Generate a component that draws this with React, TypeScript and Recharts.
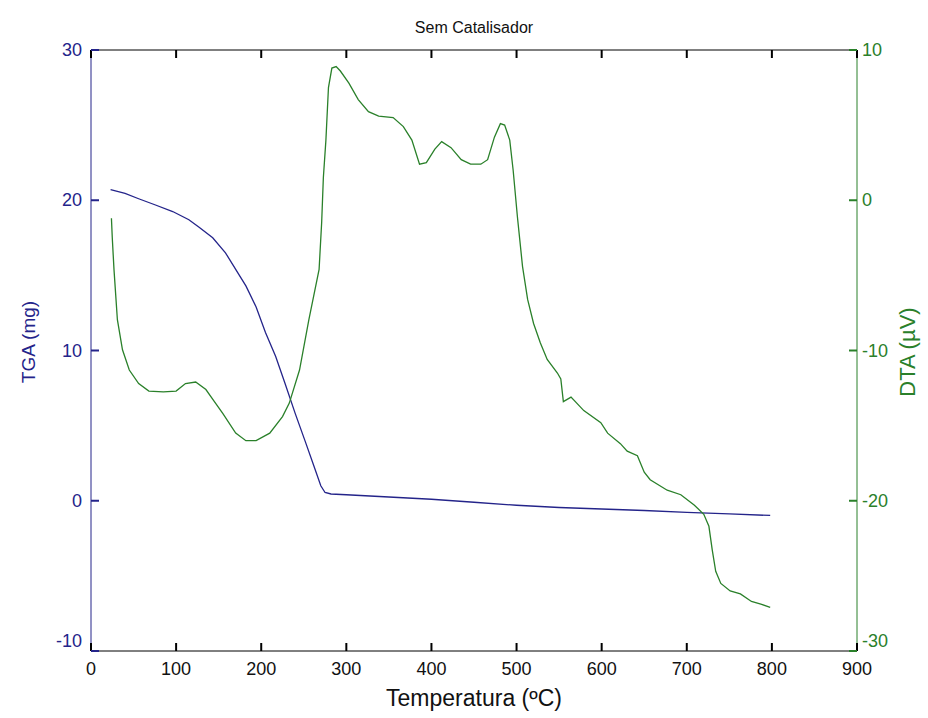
import React from "react";
import { LineChart, Line, XAxis, YAxis } from "recharts";

// TGA (mg) vs temperature (ºC)
const tgaTemp = [23, 40, 56, 75, 96, 115, 127, 143, 158, 170, 182, 194, 205, 217, 228, 240, 252, 262, 270, 275, 282, 300, 350, 400, 450, 500, 550, 600, 650, 700, 750, 798];
const tgaMass = [20.7, 20.45, 20.1, 19.7, 19.25, 18.7, 18.2, 17.5, 16.5, 15.4, 14.3, 12.9, 11.2, 9.6, 7.8, 5.8, 3.9, 2.3, 1.0, 0.55, 0.45, 0.4, 0.25, 0.1, -0.1, -0.3, -0.45, -0.55, -0.65, -0.78, -0.88, -0.98];

// DTA (µV) vs temperature (ºC)
const dtaTemp = [24, 25, 27, 31, 37, 45, 56, 68, 85, 100, 111, 123, 135, 145, 155, 170, 182, 194, 210, 225, 233, 245, 256, 268, 271, 273, 276, 279, 283, 288, 293, 303, 314, 326, 338, 355, 367, 377, 386, 394, 404, 412, 423, 435, 446, 458, 466, 474, 481, 486, 492, 496, 501, 507, 513, 520, 528, 536, 548, 552, 555, 564, 579, 599, 607, 622, 630, 642, 650, 657, 677, 693, 709, 720, 726, 730, 734, 740, 751, 763, 776, 788, 798];
const dtaSignal = [-1.2, -2.5, -4.6, -7.95, -9.95, -11.3, -12.2, -12.7, -12.75, -12.7, -12.2, -12.1, -12.6, -13.4, -14.2, -15.5, -16.0, -16.0, -15.5, -14.4, -13.5, -11.3, -7.95, -4.6, -1.5, 1.5, 4.0, 7.5, 8.8, 8.9, 8.6, 7.8, 6.7, 5.9, 5.6, 5.5, 4.9, 4.0, 2.4, 2.5, 3.4, 3.9, 3.5, 2.7, 2.4, 2.4, 2.7, 4.2, 5.1, 5.0, 4.0, 2.0, -1.1, -4.4, -6.6, -8.2, -9.5, -10.6, -11.5, -11.9, -13.4, -13.1, -14.0, -14.8, -15.5, -16.2, -16.7, -17.0, -18.1, -18.6, -19.3, -19.6, -20.3, -20.9, -21.7, -23.3, -24.7, -25.5, -26.0, -26.2, -26.7, -26.9, -27.1];

const xTicks = [0, 100, 200, 300, 400, 500, 600, 700, 800, 900];
const tgaTicks = [-10, 0, 10, 20, 30];
const dtaTicks = [-30, -20, -10, 0, 10];

const tgaData = tgaTemp.map((t, i) => ({ t, tga: tgaMass[i] }));
const dtaData = dtaTemp.map((t, i) => ({ t, dta: dtaSignal[i] }));

const BLUE = "#24248a";
const GREEN = "#2a802a";
const FONT = "'Liberation Sans', Arial, sans-serif";
const TICK = 8;

// tickSize 0 -> x/y arrive on the axis line; marks are drawn inward (matlab style)
const BottomTick = ({ x, y, payload }: any) => (
  <g>
    <line x1={x} y1={y} x2={x} y2={y - TICK} stroke="#000" strokeWidth={2} />
    <text x={x} y={y + 24} textAnchor="middle" fontSize={18} fontFamily={FONT} fill="#111">
      {payload.value}
    </text>
  </g>
);

const TopTick = ({ x, y }: any) => (
  <line x1={x} y1={y} x2={x} y2={y + TICK} stroke="#000" strokeWidth={2} />
);

const LeftTick = ({ x, y, payload }: any) => (
  <g>
    <line x1={x} y1={y} x2={x + TICK} y2={y} stroke={BLUE} strokeWidth={2} />
    <text x={x - 9} y={payload.value === -10 ? y - 10 : y} dy={6} textAnchor="end" fontSize={18} fontFamily={FONT} fill={BLUE}>
      {payload.value}
    </text>
  </g>
);

const RightTick = ({ x, y, payload }: any) => (
  <g>
    <line x1={x} y1={y} x2={x - TICK} y2={y} stroke={GREEN} strokeWidth={2} />
    <text x={x + 5} y={payload.value === -30 ? y - 10 : y} dy={6} textAnchor="start" fontSize={18} fontFamily={FONT} fill={GREEN}>
      {payload.value}
    </text>
  </g>
);

export default function App() {
  return (
    <div style={{ position: "absolute", left: 0, top: 0, width: 928, height: 718, background: "#fff" }}>
      <LineChart width={928} height={718} margin={{ top: 49, right: 70, bottom: 66, left: 90 }}>
        <XAxis
          xAxisId="bottom"
          dataKey="t"
          type="number"
          domain={[0, 900]}
          ticks={xTicks}
          height={1}
          tickSize={0}
          tickMargin={0}
          tickLine={false}
          axisLine={{ stroke: "#000" }}
          tick={<BottomTick />}
          allowDataOverflow
        />
        <XAxis
          xAxisId="top"
          orientation="top"
          dataKey="t"
          type="number"
          domain={[0, 900]}
          ticks={xTicks}
          height={1}
          tickSize={0}
          tickMargin={0}
          tickLine={false}
          axisLine={{ stroke: "#000" }}
          tick={<TopTick />}
          allowDataOverflow
        />
        <YAxis
          yAxisId="tga"
          orientation="left"
          type="number"
          domain={[-10, 30]}
          ticks={tgaTicks}
          width={1}
          tickSize={0}
          tickMargin={0}
          tickLine={false}
          axisLine={{ stroke: BLUE }}
          tick={<LeftTick />}
          allowDataOverflow
        />
        <YAxis
          yAxisId="dta"
          orientation="right"
          type="number"
          domain={[-30, 10]}
          ticks={dtaTicks}
          width={1}
          tickSize={0}
          tickMargin={0}
          tickLine={false}
          axisLine={{ stroke: GREEN }}
          tick={<RightTick />}
          allowDataOverflow
        />
        <Line
          data={tgaData}
          xAxisId="bottom"
          yAxisId="tga"
          dataKey="tga"
          type="linear"
          stroke={BLUE}
          strokeWidth={1.3}
          dot={false}
          isAnimationActive={false}
        />
        <Line
          data={dtaData}
          xAxisId="bottom"
          yAxisId="dta"
          dataKey="dta"
          type="linear"
          stroke={GREEN}
          strokeWidth={1.3}
          dot={false}
          isAnimationActive={false}
        />
      </LineChart>
      <svg width={928} height={718} style={{ position: "absolute", left: 0, top: 0, pointerEvents: "none" }}>
        <text x={474} y={33} textAnchor="middle" fontSize={16} fontFamily={FONT} fill="#111">
          Sem Catalisador
        </text>
        <text x={474} y={706} textAnchor="middle" fontSize={23} fontFamily={FONT} fill="#111">
          Temperatura (ºC)
        </text>
        <text x={35} y={342} textAnchor="middle" fontSize={19} fontFamily={FONT} fill={BLUE} transform="rotate(-90 35 342)">
          TGA (mg)
        </text>
        <text x={915} y={352} textAnchor="middle" fontSize={22} fontFamily={FONT} fill={GREEN} transform="rotate(-90 915 352)">
          DTA (µV)
        </text>
      </svg>
    </div>
  );
}
